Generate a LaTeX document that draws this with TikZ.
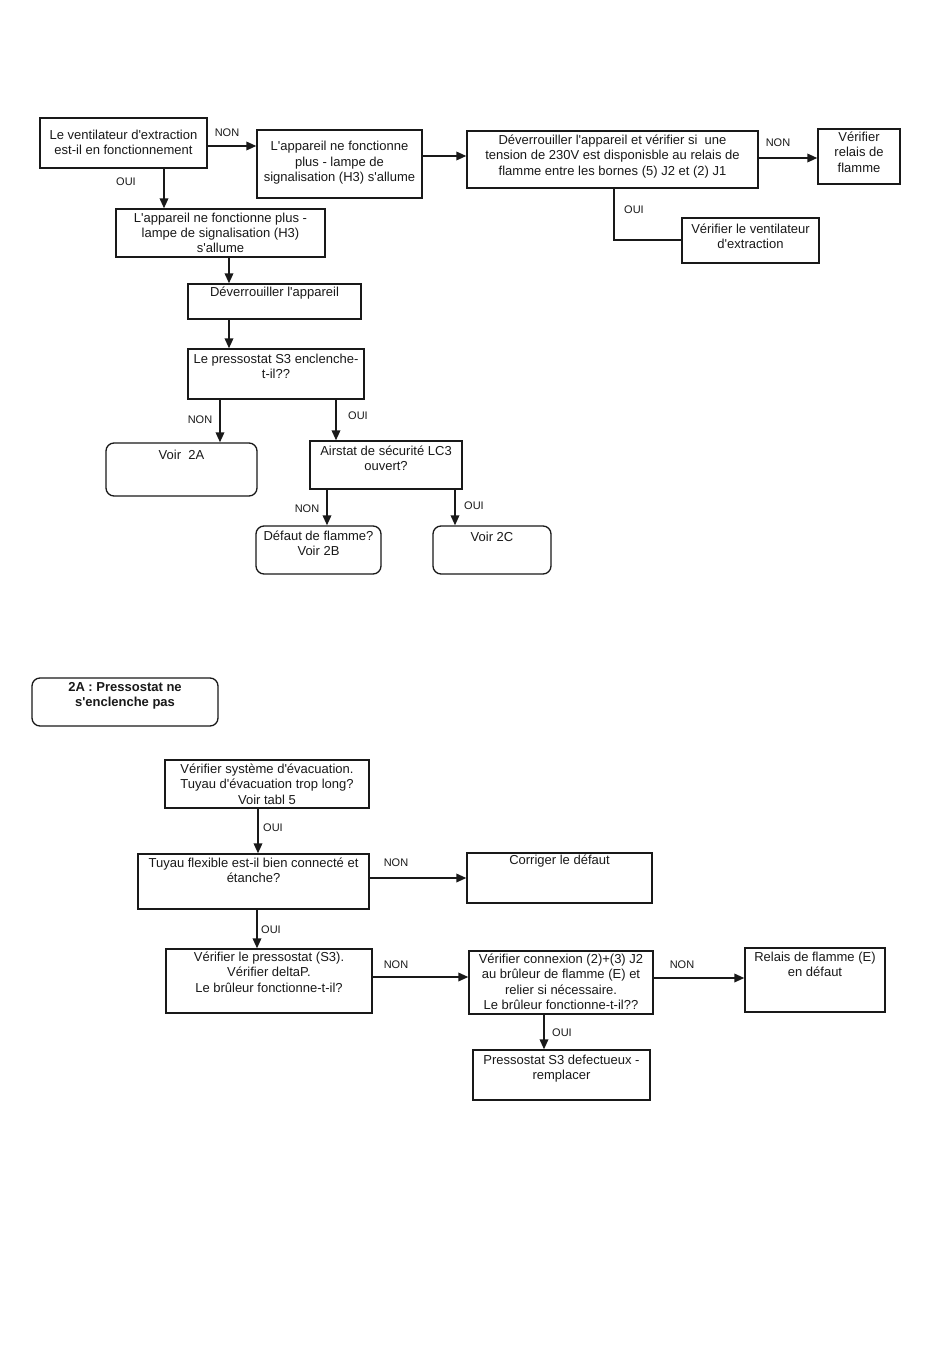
\documentclass[tikz,border=0pt]{standalone}
\usepackage{fontspec}
\setmainfont{Liberation Sans}
\usetikzlibrary{arrows.meta,fit,calc}
\newcommand\q{\textquotesingle}
\tikzset{
 box/.style={draw=black!90, line width=1.3pt, inner sep=0pt, rectangle},
 rbox/.style={box, rounded corners=8pt},
 txt/.style={inner sep=0pt, align=center, font=\fontsize{13}{15.3}\selectfont, anchor=north, text=black!90},
 btxt/.style={txt, font=\fontsize{13}{15}\selectfont\bfseries},
 lbl/.style={inner sep=0pt, font=\fontsize{11}{13}\selectfont, text=black!90},
 arr/.style={draw=black!90, line width=1.8pt, -{Triangle[length=10pt,width=8.5pt]}},
 con/.style={draw=black!90, line width=1.4pt},
}
\newcommand\bx[8]{%
 \node[#1, fit={(#3,#4) (#5,#6)}] (#2) {};
 \node[txt] (#2t) at ([yshift=-#7pt]#2.north) {#8};
}
\begin{document}
\begin{tikzpicture}[x=1pt,y=-1pt]
\fill[white] (0,0) rectangle (950,1370);
\useasboundingbox (0,0) rectangle (950,1370);

% top part
\bx{box}{A}{40}{118}{207}{168}{12.3}{Le ventilateur d\q extraction\\est-il en fonctionnement}
\bx{box}{B}{257}{130}{422}{198}{12}{L\q appareil ne fonctionne\\plus - lampe de\\signalisation (H3) s\q allume}
\bx{box}{C}{467}{131}{758}{188}{4.3}{D\'everrouiller l\q appareil et v\'erifier si\ \ une\\tension de 230V est disponisble au relais de\\flamme entre les bornes (5) J2 et (2) J1}
\bx{box}{D}{818}{129}{900}{184}{3.3}{V\'erifier\\relais de\\flamme}
\bx{box}{E}{682}{218}{819}{263}{6}{V\'erifier le ventilateur\\d\q extraction}
\bx{box}{F}{116}{209}{325}{257}{4.3}{L\q appareil ne fonctionne plus -\\lampe de signalisation (H3)\\s\q allume}
\bx{box}{G}{188}{284}{361}{319}{3.3}{D\'everrouiller l\q appareil}
\bx{box}{H}{188}{349}{364}{399}{5.3}{Le pressostat S3 enclenche-\\t-il??}
\bx{rbox}{I}{106}{443}{257}{496}{7.3}{Voir\ \ 2A}
\bx{box}{J}{310}{441}{462}{489}{5.3}{Airstat de s\'ecurit\'e LC3\\ouvert?}
\bx{rbox}{K}{256}{526}{381}{574}{5.3}{D\'efaut de flamme?\\Voir 2B}
\bx{rbox}{L}{433}{526}{551}{574}{6.3}{Voir 2C}

\draw[arr] (A.east |- 0,146) -- (B.west |- 0,146);
\node[lbl] (l1) at (227,133) {NON};
\draw[arr] (A.south -| 164,0) -- (F.north -| 164,0);
\node[lbl] (l2) at (126,182) {OUI};
\draw[arr] (B.east |- 0,156) -- (C.west |- 0,156);
\draw[arr] (C.east |- 0,158) -- (D.west |- 0,158);
\node[lbl] (l3) at (778,143) {NON};
\coordinate (ce) at (614,240);
\draw[con] (C.south -| ce) -- (ce) -- (E.west |- ce);
\node[lbl] (l4) at (634,210) {OUI};
\draw[arr] (F.south -| 229,0) -- (G.north -| 229,0);
\draw[arr] (G.south -| 229,0) -- (H.north -| 229,0);
\draw[arr] (H.south -| 220,0) -- (I.north -| 220,0);
\node[lbl] (l5) at (200,420) {NON};
\draw[arr] (H.south -| 336,0) -- (J.north -| 336,0);
\node[lbl] (l6) at (358,416) {OUI};
\draw[arr] (J.south -| 327,0) -- (K.north -| 327,0);
\node[lbl] (l7) at (307,509) {NON};
\draw[arr] (J.south -| 455,0) -- (L.north -| 455,0);
\node[lbl] (l8) at (474,506) {OUI};

% bottom part
\node[rbox, fit={(32,678) (218,726)}] (M) {};
\node[btxt] (Mt) at ([yshift=-5.3pt]M.north) {2A : Pressostat ne\\s\q enclenche pas};
\bx{box}{N}{165}{760}{369}{808}{4.3}{V\'erifier syst\`eme d\q\'evacuation.\\Tuyau d\q\'evacuation trop long?\\Voir tabl 5}
\bx{box}{O}{138}{854}{369}{909}{4.3}{Tuyau flexible est-il bien connect\'e et\\\'etanche?}
\bx{box}{P}{467}{853}{652}{903}{2.3}{Corriger le d\'efaut}
\bx{box}{Q}{166}{949}{372}{1013}{3.3}{V\'erifier le pressostat (S3).\\V\'erifier deltaP.\\Le br\^uleur fonctionne-t-il?}
\bx{box}{R}{469}{951}{653}{1014}{3.3}{V\'erifier connexion (2)+(3) J2\\au br\^uleur de flamme (E) et\\relier si n\'ecessaire.\\Le br\^uleur fonctionne-t-il??}
\bx{box}{S}{745}{948}{885}{1012}{4.3}{Relais de flamme (E)\\en d\'efaut}
\bx{box}{T}{473}{1050}{650}{1100}{5.3}{Pressostat S3 defectueux -\\remplacer}

\draw[arr] (N.south -| 258,0) -- (O.north -| 258,0);
\node[lbl] (l9) at (273,828) {OUI};
\draw[arr] (O.east |- 0,878) -- (P.west |- 0,878);
\node[lbl] (l10) at (396,863) {NON};
\draw[arr] (O.south -| 257,0) -- (Q.north -| 257,0);
\node[lbl] (l11) at (271,930) {OUI};
\draw[arr] (Q.east |- 0,977) -- (R.west |- 0,977);
\node[lbl] (l12) at (396,965) {NON};
\draw[arr] (R.east |- 0,978) -- (S.west |- 0,978);
\node[lbl] (l13) at (682,965) {NON};
\draw[arr] (R.south -| 544,0) -- (T.north -| 544,0);
\node[lbl] (l14) at (562,1033) {OUI};
\end{tikzpicture}
\end{document}
